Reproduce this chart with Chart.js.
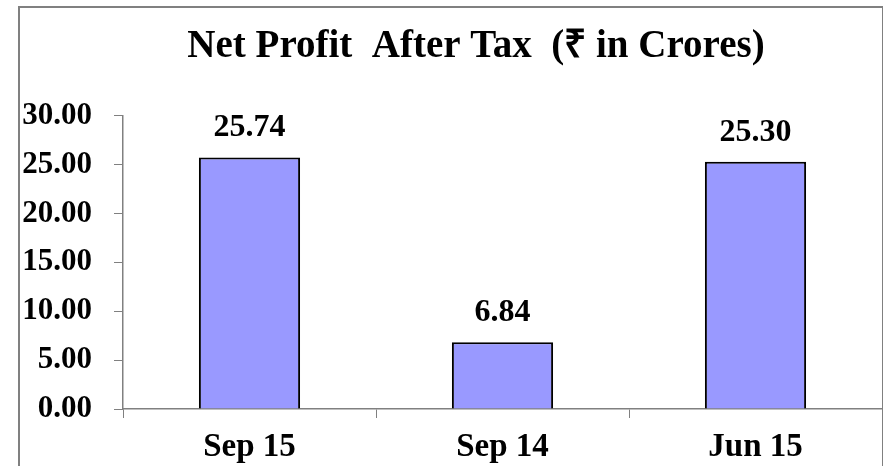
<!DOCTYPE html>
<html>
<head>
<meta charset="utf-8">
<script src="https://cdn.jsdelivr.net/npm/chart.js@4/dist/chart.umd.min.js"></script>
<style>
    html, body { margin: 0; padding: 0; background: #fff; }
    #wrap { position: relative; width: 883px; height: 466px; overflow: hidden; }
    #frame { position: absolute; left: 18px; top: 6px; width: 862px; height: 480px; border: 2px solid #808080; }
    #chart { position: absolute; left: 0; top: 0; }
</style>
</head>
<body>
<div id="wrap">
    <div id="frame"></div>
    <canvas id="chart" width="883" height="466"></canvas>
</div>
<script>
const categories = ['Sep 15', 'Sep 14', 'Jun 15'];
const profitValues = [25.74, 6.84, 25.30];
const yTicks = [0, 5, 10, 15, 20, 25, 30];

const FONT = "'Liberation Serif', 'Times New Roman', serif";

// value labels above each bar
const barValueLabels = {
    id: 'barValueLabels',
    afterDatasetsDraw(chart) {
        const ctx = chart.ctx;
        const meta = chart.getDatasetMeta(0);
        ctx.save();
        ctx.font = `bold 32px ${FONT}`;
        ctx.fillStyle = '#000';
        ctx.textAlign = 'center';
        ctx.textBaseline = 'alphabetic';
        meta.data.forEach((bar, i) => {
            ctx.fillText(profitValues[i].toFixed(2), bar.x, bar.y - 21);
        });
        ctx.restore();
    }
};

// the title in the original sits a bit right of the canvas centre
const titleShift = {
    id: 'titleShift',
    afterLayout(chart) {
        chart.titleBlock.left += 35;
        chart.titleBlock.right += 35;
    }
};

new Chart(document.getElementById('chart'), {
    type: 'bar',
    data: {
        labels: categories,
        datasets: [{
            label: 'Net Profit After Tax',
            data: profitValues,
            backgroundColor: '#9999FF',
            borderColor: '#000000',
            borderWidth: 2,
            barPercentage: 0.4,
            categoryPercentage: 1.0
        }]
    },
    options: {
        responsive: false,
        animation: false,
        layout: {
            padding: {left: 0, right: 1, top: 0, bottom: 0}
        },
        plugins: {
            legend: {display: false},
            tooltip: {enabled: false},
            title: {
                display: true,
                text: 'Net Profit  After Tax  (₹ in Crores)',
                color: '#000',
                font: {family: FONT, size: 39, weight: 'bold', lineHeight: 1.2},
                padding: {top: 24, bottom: 45}
            }
        },
        scales: {
            x: {
                afterFit: (scale) => { scale.height = 57; },
                grid: {
                    drawOnChartArea: false,
                    color: '#808080',
                    tickLength: 9,
                    offset: true
                },
                border: {color: '#808080', width: 1.5},
                ticks: {
                    color: '#000',
                    font: {family: FONT, size: 33, weight: 'bold', lineHeight: 1.2},
                    padding: 10
                }
            },
            y: {
                min: 0,
                max: 30,
                afterFit: (scale) => { scale.width = 123; },
                afterBuildTicks: (scale) => { scale.ticks = yTicks.map(v => ({value: v})); },
                grid: {
                    drawOnChartArea: false,
                    color: '#808080',
                    tickLength: 9
                },
                border: {color: '#808080', width: 1.5},
                ticks: {
                    color: '#000',
                    font: {family: FONT, size: 31, weight: 'bold', lineHeight: 1.2},
                    padding: 22,
                    callback: (value) => Number(value).toFixed(2)
                }
            }
        }
    },
    plugins: [barValueLabels, titleShift]
});
</script>
</body>
</html>
